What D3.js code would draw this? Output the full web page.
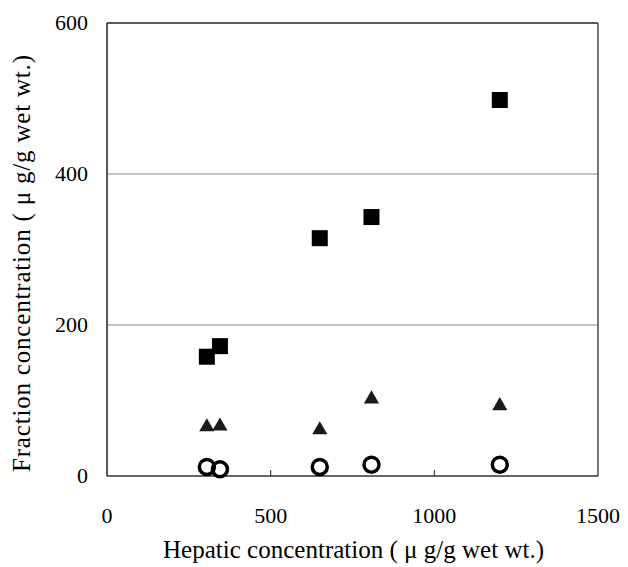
<!DOCTYPE html>
<html>
<head>
<meta charset="utf-8">
<script src="https://cdn.jsdelivr.net/npm/d3@7/dist/d3.min.js"></script>
<style>
  body { margin: 0; background: #fff; }
  text { font-family: "Liberation Serif", "Times New Roman", serif; fill: #000; }
</style>
</head>
<body>
<div id="chart"></div>
<script>
// hepatic concentration (x), shared by all three fractions
var hepatic = [305, 345, 650, 808, 1200];
// fraction concentrations
var squareFraction = [158, 172, 315, 343, 498];
var triangleFraction = [65, 66, 61, 102, 93];
var circleFraction = [12, 9, 12, 15, 15];

var xTicks = [0, 500, 1000, 1500];
var yTicks = [0, 200, 400, 600];
var xTitle = 'Hepatic concentration ( \u03bc g/g wet wt.)';
var yTitle = 'Fraction concentration ( \u03bc g/g wet wt.)';

var width = 628, height = 567;
var margin = {left: 107, right: 30, top: 23, bottom: 91};

var svg = d3.select('#chart').append('svg')
  .attr('width', width)
  .attr('height', height);

var x = d3.scaleLinear().domain([0, 1500]).range([margin.left, width - margin.right]);
var y = d3.scaleLinear().domain([0, 600]).range([height - margin.bottom, margin.top]);

// gridlines at 200 and 400
svg.selectAll('line.grid')
  .data(yTicks.filter(function(d) { return d > 0 && d < 600; }))
  .enter().append('line')
    .attr('class', 'grid')
    .attr('x1', x(0)).attr('x2', x(1500))
    .attr('y1', y).attr('y2', y)
    .attr('stroke', '#8a8a8a')
    .attr('stroke-width', 1.2);

// frame
svg.append('line').attr('x1', x(0)).attr('x2', x(1500)).attr('y1', y(600)).attr('y2', y(600))
  .attr('stroke', '#222').attr('stroke-width', 1.4);
svg.append('line').attr('x1', x(1500)).attr('x2', x(1500)).attr('y1', y(600)).attr('y2', y(0))
  .attr('stroke', '#555').attr('stroke-width', 1.6);
svg.append('line').attr('x1', x(0)).attr('x2', x(0)).attr('y1', y(600)).attr('y2', y(0))
  .attr('stroke', '#111').attr('stroke-width', 1.4);
svg.append('line').attr('x1', x(0)).attr('x2', x(1500)).attr('y1', y(0)).attr('y2', y(0))
  .attr('stroke', '#333').attr('stroke-width', 1.6);

// inner x ticks
svg.selectAll('line.xtick')
  .data(xTicks.filter(function(d) { return d > 0 && d < 1500; }))
  .enter().append('line')
    .attr('class', 'xtick')
    .attr('x1', x).attr('x2', x)
    .attr('y1', y(0)).attr('y2', y(0) - 6)
    .attr('stroke', '#222').attr('stroke-width', 1);

// tick labels
svg.selectAll('text.xlabel')
  .data(xTicks).enter().append('text')
    .attr('class', 'xlabel')
    .attr('x', x)
    .attr('y', 523)
    .attr('text-anchor', 'middle')
    .style('font-size', '22px')
    .text(function(d) { return d; });

svg.selectAll('text.ylabel')
  .data(yTicks).enter().append('text')
    .attr('class', 'ylabel')
    .attr('x', 88)
    .attr('y', function(d) { return y(d) + 7; })
    .attr('text-anchor', 'end')
    .style('font-size', '22px')
    .text(function(d) { return d; });

// axis titles (stretched to the width they take in the figure)
svg.append('text')
  .attr('x', 163).attr('y', 558)
  .attr('textLength', 381)
  .attr('lengthAdjust', 'spacing')
  .style('font-size', '25px')
  .text(xTitle);

svg.append('text')
  .attr('transform', 'translate(30,472) rotate(-90)')
  .attr('textLength', 417)
  .attr('lengthAdjust', 'spacing')
  .style('font-size', '25px')
  .text(yTitle);

var pts = function(vals) {
  return hepatic.map(function(h, i) { return {x: h, y: vals[i]}; });
};

// open circles
svg.selectAll('circle.lo')
  .data(pts(circleFraction)).enter().append('circle')
    .attr('class', 'lo')
    .attr('cx', function(d) { return x(d.x); })
    .attr('cy', function(d) { return y(d.y); })
    .attr('r', 7.5)
    .attr('fill', 'none')
    .attr('stroke', '#000')
    .attr('stroke-width', 3.5);

// triangles
var tri = d3.symbol().type(d3.symbolTriangle).size(100);
svg.selectAll('path.mid')
  .data(pts(triangleFraction)).enter().append('path')
    .attr('class', 'mid')
    .attr('d', tri)
    .attr('transform', function(d) { return 'translate(' + x(d.x) + ',' + y(d.y) + ')'; })
    .attr('fill', '#1a1a1a');

// filled squares
svg.selectAll('rect.hi')
  .data(pts(squareFraction)).enter().append('rect')
    .attr('class', 'hi')
    .attr('x', function(d) { return x(d.x) - 8; })
    .attr('y', function(d) { return y(d.y) - 8; })
    .attr('width', 16)
    .attr('height', 16)
    .attr('fill', '#000');
</script>
</body>
</html>
